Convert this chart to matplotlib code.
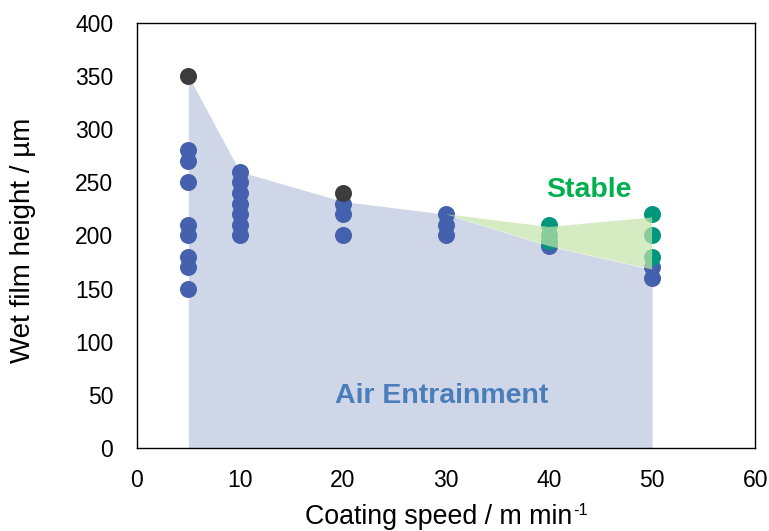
import matplotlib
matplotlib.use("Agg")
import matplotlib.pyplot as plt

plt.rcParams['font.family'] = ['Liberation Sans', 'DejaVu Sans']

# Boundary of air-entrainment region
air_x = [5, 10, 20, 30, 40, 50]
air_y = [350, 260, 232, 220, 190, 168]

# Stable region polygon
stable_x = [30, 40, 50, 50, 40]
stable_y = [220, 208, 217, 168, 190]

# Data points
blue_x = [5, 5, 5, 5, 5, 5, 5, 5,
          10, 10, 10, 10, 10, 10, 10,
          20, 20, 20,
          30, 30, 30,
          40,
          50, 50]
blue_y = [280, 270, 250, 210, 200, 180, 170, 150,
          260, 250, 240, 230, 220, 210, 200,
          230, 220, 200,
          220, 210, 200,
          190,
          170, 160]

dark_x = [5, 20]
dark_y = [350, 240]

green_x = [40, 40, 40, 50, 50, 50]
green_y = [210, 200, 195, 220, 200, 180]

fig = plt.figure(figsize=(7.69, 5.31), dpi=100)
ax = fig.add_axes([0.178, 0.156, 0.804, 0.801])

ax.fill_between(air_x, 0, air_y, color='#CFD6E8', linewidth=0, zorder=1)

ax.scatter(blue_x, blue_y, s=150, color='#4361AC', zorder=3, linewidths=0)
ax.scatter(dark_x, dark_y, s=150, color='#3C3C3C', zorder=3, linewidths=0)
ax.scatter(green_x, green_y, s=150, color='#00967E', zorder=3, linewidths=0)

ax.fill(stable_x, stable_y, color='#C4E4A8', alpha=0.7, linewidth=0, zorder=4)

ax.text(29.6, 49, 'Air Entrainment', color='#4A7EBB', fontsize=20.5,
        fontweight='bold', ha='center', va='center', zorder=5)
ax.text(43.9, 243, 'Stable', color='#00B050', fontsize=20.5,
        fontweight='bold', ha='center', va='center', zorder=5)

ax.set_xlim(0, 60)
ax.set_ylim(0, 400)
ax.set_xticks(range(0, 61, 10))
ax.set_yticks(range(0, 401, 50))
ax.tick_params(axis='x', length=0, labelsize=16.5, pad=15)
ax.tick_params(axis='y', length=0, labelsize=16.5, pad=17)
for sp in ax.spines.values():
    sp.set_linewidth(1.0)
    sp.set_color('black')

# y label
fig.text(23 / 769, 1 - 240 / 531, 'Wet film height / µm', fontsize=20,
         rotation=90, ha='center', va='center')

# x label with superscript made of a plain hyphen
fig.canvas.draw()
r = fig.canvas.get_renderer()
main = fig.text(0, 0, 'Coating speed / m min', fontsize=19.3, ha='left', va='baseline')
sup = fig.text(0, 0, '-1', fontsize=12, ha='left', va='baseline')
wm = main.get_window_extent(r).width
ws = sup.get_window_extent(r).width
total = wm + ws
x0 = 446 - total / 2
base = 531 - 524
main.set_position((x0 / 769, base / 531))
sup.set_position(((x0 + wm + 1) / 769, (base + 9) / 531))

fig.savefig('out.png', dpi=100)
